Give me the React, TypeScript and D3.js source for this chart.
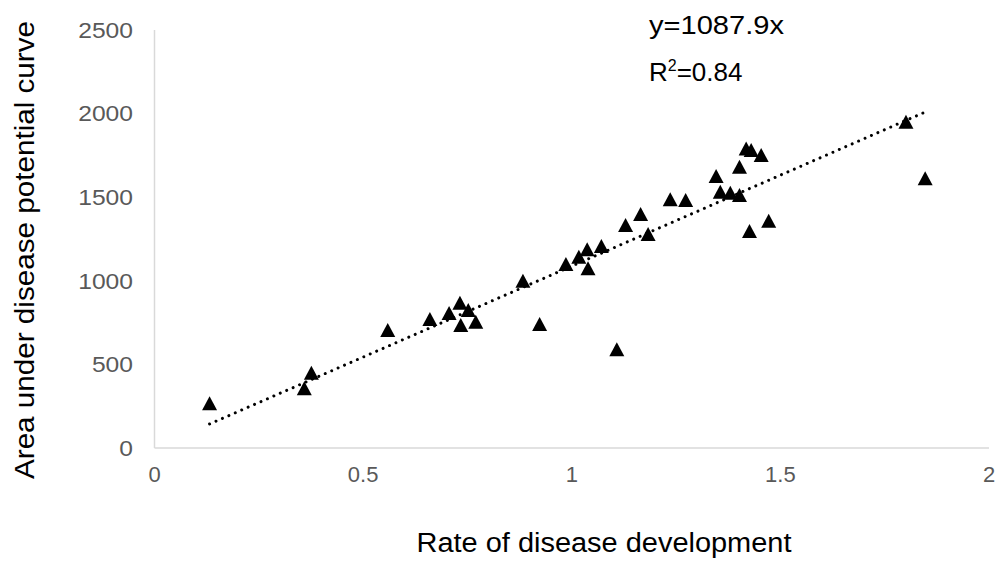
import React from "react";
import * as d3 from "d3";

const rateValues = [
  0.132, 0.359, 0.376, 0.559, 0.66, 0.706, 0.732, 0.752, 0.734, 0.77, 0.883, 0.923,
  0.986, 1.017, 1.037, 1.039, 1.071, 1.108, 1.129, 1.165, 1.183, 1.236, 1.273,
  1.346, 1.356, 1.38, 1.402, 1.402, 1.418, 1.43, 1.454, 1.426, 1.472, 1.801, 1.847,
];
const audpcValues = [
  267, 357, 450, 706, 772, 807, 869, 825, 736, 755, 1001, 742,
  1100, 1144, 1188, 1075, 1208, 590, 1334, 1400, 1280, 1487, 1483,
  1627, 1533, 1527, 1513, 1682, 1792, 1782, 1752, 1298, 1359, 1952, 1613,
];
const xTicks = [0, 0.5, 1, 1.5, 2];
const yTicks = [0, 500, 1000, 1500, 2000, 2500];
const slope = 1087.9;
const equationLabel = "y=1087.9x";
const r2Value = "=0.84";
const xTitle = "Rate of disease development";
const yTitle = "Area under disease potential curve";

export default function App() {
  const W = 1003;
  const H = 566;
  const x = d3.scaleLinear().domain([0, 2]).range([154.5, 989]);
  const y = d3.scaleLinear().domain([0, 2500]).range([448, 30]);
  const font = "'Liberation Sans', Arial, sans-serif";

  const xmin = d3.min(rateValues) as number;
  const xmax = d3.max(rateValues) as number;
  const trend = d3.line<number>().x((d) => x(d)).y((d) => y(slope * d))([xmin, xmax]) || "";

  const tri = (cx: number, cy: number) => {
    const hw = 7.5;
    const hh = 7;
    const p = d3.path();
    p.moveTo(cx, cy - hh);
    p.lineTo(cx + hw, cy + hh);
    p.lineTo(cx - hw, cy + hh);
    p.closePath();
    return p.toString();
  };

  return (
    <svg
      width={W}
      height={H}
      style={{ position: "absolute", left: 0, top: 0, background: "#fff" }}
      fontFamily={font}
    >
      <rect width={W} height={H} fill="#fff" />
      <line x1={x(0)} x2={x(0)} y1={y(2500)} y2={y(0)} stroke="#d9d9d9" strokeWidth={1.5} />
      <line x1={x(0)} x2={x(2)} y1={y(0)} y2={y(0)} stroke="#d9d9d9" strokeWidth={1.5} />
      {yTicks.map((t) => (
        <text key={t} x={133} y={y(t)} dy="0.35em" textAnchor="end" fontSize={22} fill="#595959"
          textLength={String(t).length * 13.7} lengthAdjust="spacingAndGlyphs">
          {t}
        </text>
      ))}
      {xTicks.map((t) => (
        <text key={t} x={x(t)} y={474} dy="0.35em" textAnchor="middle" fontSize={22} fill="#595959">
          {t}
        </text>
      ))}
      <path
        d={trend}
        fill="none"
        stroke="#000"
        strokeWidth={3}
        strokeDasharray="0.01 7"
        strokeLinecap="round"
      />
      {rateValues.map((r, i) => (
        <path key={i} d={tri(x(r), y(audpcValues[i]))} fill="#000" />
      ))}
      <text x={649} y={34} fontSize={26} fill="#000" textLength={135} lengthAdjust="spacingAndGlyphs">
        {equationLabel}
      </text>
      <text x={649} y={81} fontSize={26} fill="#000">
        R<tspan dy={-10} fontSize={16}>2</tspan>
        <tspan dy={10}>{r2Value}</tspan>
      </text>
      <text x={604} y={552} textAnchor="middle" fontSize={27} fill="#000"
        textLength={375} lengthAdjust="spacingAndGlyphs">
        {xTitle}
      </text>
      <text
        transform={`translate(34,250) rotate(-90)`}
        textAnchor="middle"
        fontSize={27}
        fill="#000"
        textLength={458}
        lengthAdjust="spacingAndGlyphs"
      >
        {yTitle}
      </text>
    </svg>
  );
}
